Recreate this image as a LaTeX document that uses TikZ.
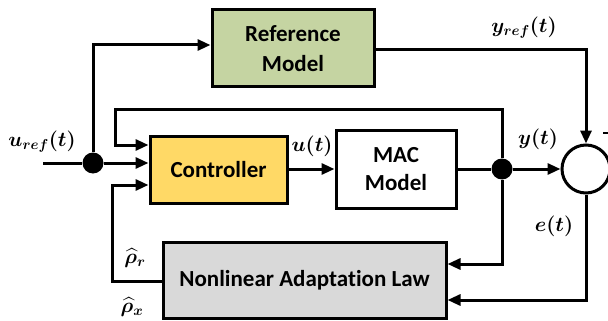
\documentclass[tikz,border=0pt]{standalone}
\usepackage{fontspec}
\usepackage{amsmath,bm}
\newfontfamily\boxfont[Ligatures=NoCommon]{Carlito}
\usetikzlibrary{arrows.meta,calc}
\definecolor{refgreen}{RGB}{197,212,162}
\definecolor{ctrlyellow}{RGB}{255,217,102}
\definecolor{nalgray}{RGB}{217,217,217}
\begin{document}
\begin{tikzpicture}[x=1pt,y=-1pt,
  blk/.style={draw=black,line width=3pt,font=\boxfont\bfseries\fontsize{23}{30}\selectfont,align=center,inner sep=0pt},
  wire/.style={line width=3pt},
  arr/.style={line width=3pt,-{Triangle[length=13pt,width=11pt]}},
  dotj/.style={circle,fill=black,minimum size=21pt,inner sep=0pt},
  lbl/.style={font=\fontsize{21}{24}\selectfont,inner sep=0pt}]
\useasboundingbox (0,0) rectangle (608,321);
% blocks
\node[blk,fill=refgreen,minimum width=162pt,minimum height=77pt] (ref) at (293,48.5) {Reference\\Model};
\node[blk,fill=ctrlyellow,minimum width=137pt,minimum height=67pt] (ctrl) at (218.5,169.5) {Controller};
\node[blk,fill=white,minimum width=120pt,minimum height=78pt,font=\boxfont\bfseries\fontsize{23}{28}\selectfont] (mac) at (396,169) {MAC\\Model};
\node[blk,fill=nalgray,minimum width=283pt,minimum height=76pt] (nal) at (304.5,280) {Nonlinear Adaptation Law};
\node[draw=black,line width=3pt,circle,minimum size=48pt,inner sep=0pt,fill=white] (sum) at (586,169) {};
% junctions
\node[dotj] (j1) at (93,163) {};
\node[dotj] (j2) at (502,169) {};
% free-end coordinates
\coordinate (uin) at (43,163);
\coordinate (fbtop) at (115,109);
\coordinate (fbin) at (115,145);
\coordinate (rhoin) at (112,185);
\coordinate (rhocorner) at (112,281);
\coordinate (ycorner) at (502,264);
\coordinate (ecorner) at (586,300);
\coordinate (yrefcorner) at (586,50);
\coordinate (minusL) at (603,133);
\coordinate (minusR) at (614,133);
% connectors
\draw[wire] (uin) -- (j1);
\draw[arr] (j1) -- (ctrl.west |- j1);
\draw[arr] (j1) |- ($(ref.west)+(0,-3.5)$);
\draw[arr] (j2) |- (fbtop) -- (fbin) -- (ctrl.west |- fbin);
\draw[arr] (ctrl.east |- mac.west) -- (mac.west);
\draw[wire] (mac.east) -- (j2);
\draw[arr] (j2) -- (sum.west);
\draw[arr] ($(ref.east)+(0,1.5)$) -- (yrefcorner) -- (sum.north);
\draw[arr] (j2) -- (ycorner) -- (nal.east |- ycorner);
\draw[arr] (sum.south) -- (ecorner) -- (nal.east |- ecorner);
\draw[arr] (nal.west |- rhocorner) -- (rhocorner) -- (rhoin) -- (ctrl.west |- rhoin);
\draw[line width=2.5pt] (minusL) -- (minusR);
% labels
\node[lbl] (lu) at (42,142) {$\bm{u_{ref}(t)}$};
\node[lbl] (lyr) at (524,28) {$\bm{y_{ref}(t)}$};
\node[lbl] (lut) at (312,146) {$\bm{u(t)}$};
\node[lbl] (ly) at (538,139) {$\bm{y(t)}$};
\node[lbl] (le) at (554,226) {$\bm{e(t)}$};
\node[lbl] (lrr) at (135,258) {$\bm{\widehat{\rho}_r}$};
\node[lbl] (lrx) at (132,307) {$\bm{\widehat{\rho}_x}$};
\end{tikzpicture}
\end{document}
